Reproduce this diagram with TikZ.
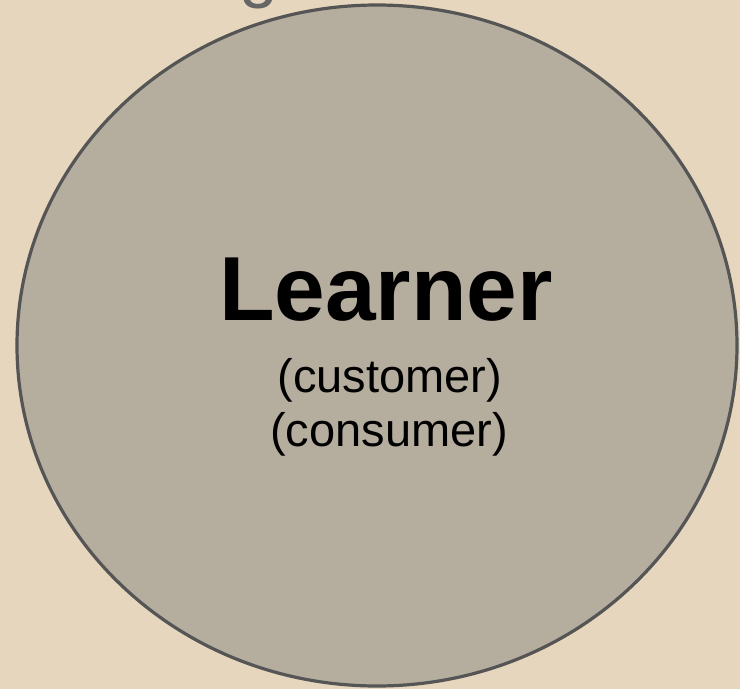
\documentclass[tikz,border=0pt]{standalone}
\usepackage{fontspec}
\usetikzlibrary{shapes.geometric}
\setmainfont{Liberation Sans}
\definecolor{paper}{HTML}{E6D6BD}
\definecolor{disc}{HTML}{B5AE9F}
\definecolor{rim}{HTML}{555555}
\definecolor{titlegray}{HTML}{666666}
\begin{document}
\begin{tikzpicture}[x=1pt,y=-1pt,
  title/.style={text=titlegray,font=\fontsize{70}{80}\selectfont,inner sep=0,anchor=base},
  big/.style={font=\fontsize{91}{100}\selectfont\bfseries,inner sep=0,anchor=base},
  sub/.style={font=\fontsize{47}{52}\selectfont,inner sep=0,anchor=base}]
  \useasboundingbox (0,0) rectangle (740,689);
  \fill[paper] (0,0) rectangle (740,689);
  % heading above the circle, mostly off the page
  \node[title] (head) at (259,-6) {g};
  % the learner circle
  \node[ellipse,draw=rim,fill=disc,line width=3.2pt,minimum width=720pt,minimum height=681pt,inner sep=0] (circ) at (377,345.5) {};
  \node[big] (learner) at (386,320) {Learner};
  \node[sub] (cust) at (390,392) {(customer)};
  \node[sub] (cons) at (389,446) {(consumer)};
\end{tikzpicture}
\end{document}
